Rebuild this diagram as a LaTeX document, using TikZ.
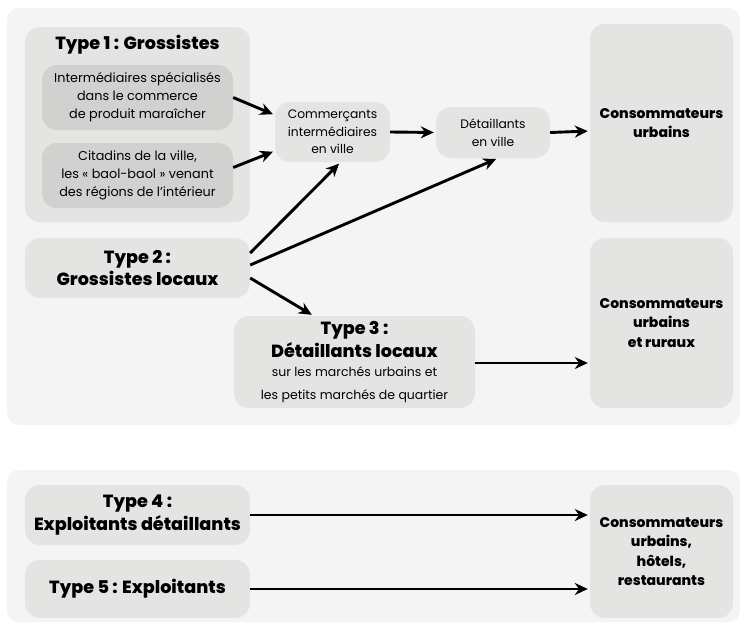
\documentclass[tikz,border=0pt]{standalone}
\usepackage{fontspec}
\setmainfont{Poppins}[BoldFont={Poppins ExtraBold}]
\usetikzlibrary{%
  arrows.meta,%
  calc%
}
\definecolor{panelgray}{HTML}{F4F4F4}
\definecolor{boxgray}{HTML}{E4E4E3}
\definecolor{innergray}{HTML}{D1D1D0}

\begin{document}
\begin{tikzpicture}[x=1pt,y=-1pt,
  panel/.style={fill=panelgray,rounded corners=12pt},
  box/.style={fill=boxgray,rounded corners=15pt,align=center,inner sep=0pt},
  darkbox/.style={fill=innergray,rounded corners=15pt,align=center,inner sep=0pt,
    minimum width=191pt,minimum height=65pt,font=\fontsize{12.8}{18}\selectfont},
  small/.style={font=\fontsize{12.3}{17.5}\selectfont},
  big/.style={font=\fontsize{17.6}{22.5}\selectfont\bfseries},
  cons/.style={font=\fontsize{14}{19.5}\selectfont\bfseries},
  flow/.style={line width=2.9pt,-{Stealth[length=13pt,width=12pt]},shorten >=2pt}]
  \useasboundingbox[fill=white] (0,0) rectangle (743,627);
  % the two panels
  \draw[panel,draw=none] (7,8) rectangle (740,425);
  \draw[panel,draw=none] (7,470) rectangle (740,622);
  % type 1
  \node[box,minimum width=225pt,minimum height=195pt] (type1) at (137.5,124.5) {};
  \node[big] (type1t) at (137.5,45) {Type 1 : Grossistes};
  \node[darkbox] (inter) at (137.5,97.5)
    {Intermédiaires spécialisés\\dans le commerce\\de produit maraîcher};
  \node[darkbox] (citad) at (137.5,175.5)
    {Citadins de la ville,\\les « baol-baol » venant\\des régions de l’intérieur};
  % town chain
  \node[box,small,minimum width=115pt,minimum height=60pt] (comm) at (332.5,132)
    {Commerçants\\intermédiaires\\en ville};
  \node[box,small,minimum width=114pt,minimum height=51pt] (detv) at (493,132.5)
    {Détaillants\\en ville};
  \node[box,cons,minimum width=143pt,minimum height=198pt] (consA) at (661.5,123)
    {Consommateurs\\urbains};
  % type 2 and 3
  \node[box,big,minimum width=225pt,minimum height=60pt] (type2) at (137.5,268)
    {Type 2 :\\Grossistes locaux};
  \node[box,big,minimum width=241pt,minimum height=92pt] (type3) at (354.5,362)
    {Type 3 :\\Détaillants locaux\\[-3pt]
     \fontsize{12.5}{17.5}\selectfont\mdseries sur les marchés urbains et\\
     \fontsize{12.5}{17.5}\selectfont\mdseries les petits marchés de quartier};
  \node[box,cons,minimum width=143pt,minimum height=170pt] (consB) at (661.5,323)
    {Consommateurs\\urbains\\et ruraux};
  % type 4 and 5
  \node[box,big,minimum width=225pt,minimum height=60pt] (type4) at (137.5,515)
    {Type 4 :\\Exploitants détaillants};
  \node[box,big,minimum width=225pt,minimum height=58pt] (type5) at (137.5,589)
    {Type 5 : Exploitants};
  \node[box,cons,minimum width=143pt,minimum height=133pt] (consC) at (661.5,551.5)
    {Consommateurs\\urbains,\\hôtels,\\restaurants};
  % arrows
  \draw[flow] (inter.east) -- ([yshift=17pt]comm.west);
  \draw[flow] ([yshift=8pt]citad.east) -- ([yshift=-19pt]comm.west);
  \draw[flow] (comm.east) -- (detv.west);
  \draw[flow] (detv.east) -- ([yshift=-8pt]consA.west);
  \draw[flow] ([yshift=15pt]type2.east) -- ([xshift=8pt]comm.south);
  \draw[flow] ([yshift=3pt]type2.east) -- ([xshift=5pt]detv.south);
  \draw[flow] ([yshift=-10pt]type2.east) -- ([xshift=-41pt]type3.north);
  \draw[flow] ([yshift=-1pt]type3.east) -- ([yshift=-40pt]consB.west);
  \draw[flow] (type4.east) -- ([yshift=36.5pt]consC.west);
  \draw[flow] (type5.east) -- ([yshift=-37.5pt]consC.west);
\end{tikzpicture}
\end{document}
